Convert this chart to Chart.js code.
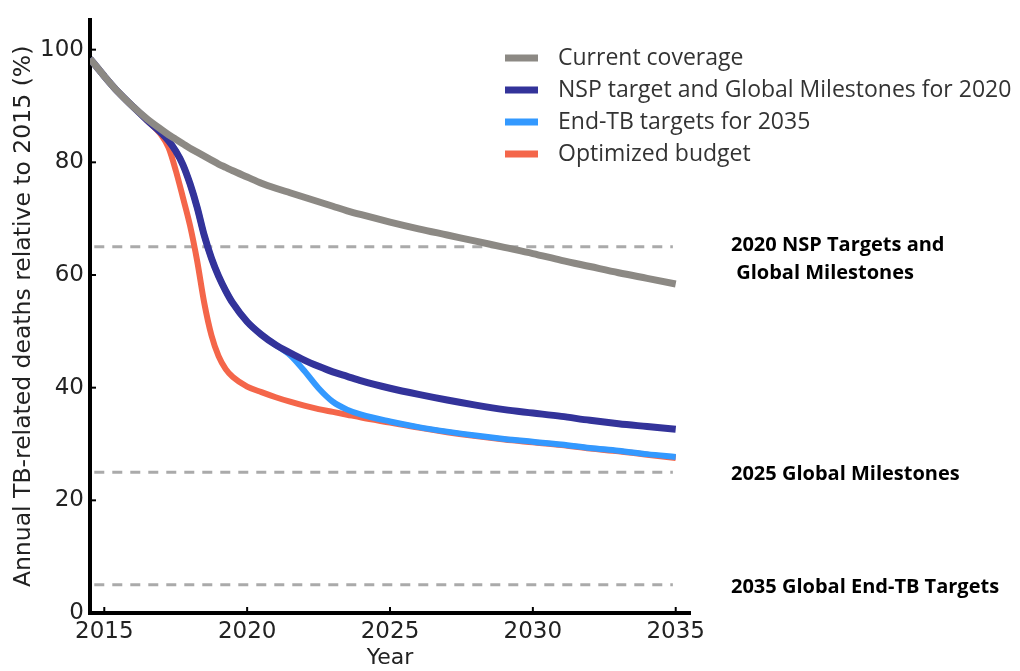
<!DOCTYPE html>
<html>
<head>
<meta charset="utf-8">
<script src="https://cdn.jsdelivr.net/npm/chart.js@4.4.1/dist/chart.umd.min.js"></script>
<style>
  body { margin:0; background:#fff; }
  #wrap { width:1020px; height:671px; position:relative; }
</style>
</head>
<body>
<div id="wrap"><canvas id="tbChart"></canvas></div>
<script>
const years = [2014.5, 2015, 2015.5, 2016, 2016.5, 2017, 2017.25, 2017.5, 2017.75, 2018, 2018.25, 2018.5, 2018.75, 2019, 2019.25, 2019.5, 2020, 2020.5, 2021, 2021.5, 2022, 2022.5, 2023, 2023.5, 2024, 2025, 2026, 2027, 2028, 2029, 2030, 2031, 2032, 2033, 2034, 2035];

const currentCoverage = [98.4, 95.3, 92.4, 89.9, 87.7, 85.8, 84.9, 84.1, 83.3, 82.5, 81.8, 81.1, 80.4, 79.7, 79.1, 78.5, 77.4, 76.3, 75.4, 74.6, 73.8, 73.0, 72.2, 71.4, 70.7, 69.4, 68.2, 67.1, 66.0, 64.9, 63.8, 62.6, 61.5, 60.4, 59.4, 58.4];
const nspTarget = [98.4, 95.3, 92.4, 89.9, 87.5, 85.2, 83.8, 82.0, 79.6, 76.2, 72.0, 67.0, 63.0, 59.8, 57.2, 55.0, 51.7, 49.4, 47.6, 46.2, 44.9, 43.8, 42.8, 42.0, 41.2, 39.9, 38.8, 37.8, 36.9, 36.1, 35.5, 34.9, 34.2, 33.6, 33.1, 32.6];
const endTbTarget = [98.4, 95.3, 92.4, 89.9, 87.5, 85.2, 83.8, 82.0, 79.6, 76.2, 72.0, 67.0, 63.0, 59.8, 57.2, 55.0, 51.7, 49.4, 47.6, 45.8, 43.0, 39.9, 37.5, 36.1, 35.2, 34.0, 33.0, 32.2, 31.5, 30.9, 30.4, 29.9, 29.3, 28.8, 28.2, 27.7];
const optimized = [98.4, 95.3, 92.4, 89.9, 87.4, 84.8, 82.6, 78.6, 73.8, 68.8, 62.5, 55.0, 49.3, 45.6, 43.3, 41.9, 40.2, 39.2, 38.3, 37.5, 36.8, 36.2, 35.7, 35.2, 34.7, 33.8, 32.9, 32.1, 31.4, 30.8, 30.3, 29.8, 29.2, 28.7, 28.1, 27.5];

const seriesNames = ['Current coverage', 'NSP target and Global Milestones for 2020', 'End-TB targets for 2035', 'Optimized budget'];
const seriesColors = ['#8c8984', '#33339a', '#3399ff', '#f4664a'];
const seriesWidths = [7, 7, 6, 6];

const targets = [65, 25, 5];
const targetLabels = [['2020 NSP Targets and', ' Global Milestones'], ['2025 Global Milestones'], ['2035 Global End-TB Targets']];
const targetSpan = [2014.65, 2034.9];

const xTicks = [2015, 2020, 2025, 2030, 2035];
const yTicks = [0, 20, 40, 60, 80, 100];

const toPoints = vals => vals.map((v, i) => ({ x: years[i], y: v }));

const lineSets = [currentCoverage, nspTarget, endTbTarget, optimized].map((vals, i) => ({
  label: seriesNames[i],
  data: toPoints(vals),
  borderColor: seriesColors[i],
  borderWidth: seriesWidths[i],
  pointRadius: 0,
  cubicInterpolationMode: 'monotone',
  fill: false
}));

const dashSets = targets.map(t => ({
  label: 'target ' + t,
  data: targetSpan.map(x => ({ x: x, y: t })),
  borderColor: '#aaaaaa',
  borderWidth: 3,
  borderDash: [10, 8],
  pointRadius: 0,
  fill: false
}));

// legend, target labels and inward ticks
const extras = {
  id: 'extras',
  afterDraw(chart) {
    const c = chart.ctx;
    const xs = chart.scales.x, ys = chart.scales.y;
    const area = chart.chartArea;

    c.save();
    c.strokeStyle = '#000';
    c.lineWidth = 2;
    xTicks.forEach(v => {
      const px = xs.getPixelForValue(v);
      c.beginPath(); c.moveTo(px, area.bottom); c.lineTo(px, area.bottom - 6); c.stroke();
    });
    yTicks.forEach(v => {
      const py = ys.getPixelForValue(v);
      c.beginPath(); c.moveTo(area.left, py); c.lineTo(area.left + 6, py); c.stroke();
    });

    // legend
    c.font = '23px "Open Sans"';
    c.textBaseline = 'middle';
    seriesNames.forEach((name, i) => {
      const y = 58 + i * 32;
      c.fillStyle = seriesColors[i];
      c.fillRect(505, y - 3.5, 33, 7);
      c.fillStyle = '#333';
      c.fillText(name, 558, y);
    });

    // target labels
    c.font = 'bold 20px "Open Sans"';
    c.fillStyle = '#000';
    targets.forEach((t, i) => {
      const py = ys.getPixelForValue(t);
      const lines = targetLabels[i];
      const y0 = py + (lines.length > 1 ? -2 : 2);
      lines.forEach((line, j) => {
        c.fillText(line, 731, y0 + j * 28);
      });
    });
    c.restore();
  }
};

const ctx = document.getElementById('tbChart').getContext('2d');
const tbChart = new Chart(ctx, {
  type: 'line',
  data: { datasets: lineSets.concat(dashSets) },
  options: {
    responsive: true,
    maintainAspectRatio: false,
    animation: false,
    layout: { padding: { left: 0, right: 330, top: 12, bottom: 0 } },
    plugins: { legend: { display: false }, tooltip: { enabled: false } },
    scales: {
      x: {
        type: 'linear',
        min: 2014.5,
        max: 2035.5,
        afterBuildTicks: s => { s.ticks = xTicks.map(v => ({ value: v })); },
        afterFit: s => { s.height = 58; },
        grid: { display: false, drawTicks: false },
        border: { display: true, color: '#000', width: 4 },
        ticks: { color: '#222', font: { family: 'DejaVu Sans', size: 23 }, padding: 5, maxRotation: 0, callback: v => String(v) },
        title: { display: true, text: 'Year', color: '#222', font: { family: 'DejaVu Sans', size: 22 }, padding: { top: 0, bottom: 0 } }
      },
      y: {
        min: 0,
        max: 105.3,
        afterBuildTicks: s => { s.ticks = yTicks.map(v => ({ value: v })); },
        afterFit: s => { s.width = 90; },
        grid: { display: false, drawTicks: false },
        border: { display: true, color: '#000', width: 4 },
        ticks: { color: '#222', font: { family: 'DejaVu Sans', size: 23 }, padding: 6 },
        title: { display: true, text: 'Annual TB-related deaths relative to 2015 (%)', color: '#222', font: { family: 'DejaVu Sans', size: 23.5 }, padding: { top: 10, bottom: 0 } }
      }
    }
  },
  plugins: [extras]
});
</script>
</body>
</html>
